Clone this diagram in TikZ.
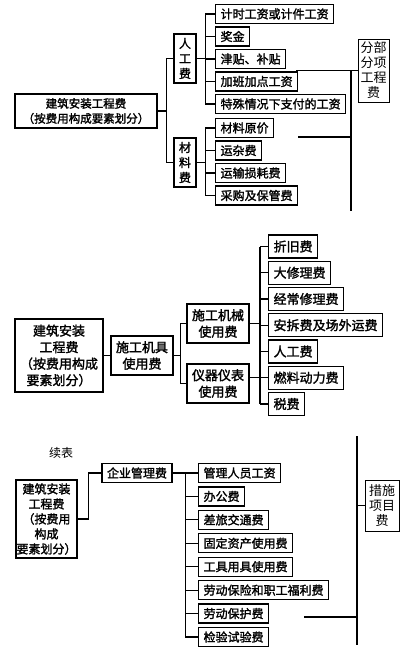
\documentclass[tikz,border=0pt]{standalone}
\usepackage{fontspec}
\newfontfamily\cjk{Noto Sans CJK SC}
\newfontfamily\cjkb[FakeBold=1.8]{Noto Sans CJK SC}
\usetikzlibrary{positioning}

\tikzset{
  box/.style={draw, line width=1.2pt, inner xsep=5pt, inner ysep=0pt, minimum height=19pt,
    font=\cjkb\fontsize{12}{14}\selectfont},
  leaf/.style={box, anchor=west},
  boxb/.style={box, minimum height=23pt, font=\cjkb\fontsize{13}{16.5}\selectfont},
  side/.style={draw, line width=1pt, align=center, inner sep=1pt, font=\cjk\fontsize{13}{15}\selectfont},
  link/.style={line width=1.2pt},
}

\begin{document}
\begin{tikzpicture}[x=1pt,y=-1pt]
\useasboundingbox (0,0) rectangle (402,651);
% Part 1: labour and materials
\node[box, align=center, minimum width=142pt, minimum height=34pt, font=\cjkb\fontsize{11.5}{15}\selectfont] (jzaz) at (86,111) {建筑安装工程费\\（按费用构成要素划分）};
\node[box, align=center, inner xsep=1pt, minimum width=22pt, minimum height=49pt, font=\cjkb\fontsize{12}{15}\selectfont] (rgf) at (185,58.5) {人\\工\\费};
\node[box, align=center, inner xsep=1pt, minimum width=22pt, minimum height=49pt, font=\cjkb\fontsize{12}{15}\selectfont] (clf) at (185,162.5) {材\\料\\费};
\draw[link] (jzaz.east) -- ++(9,0) |- (rgf.west);
\draw[link] (jzaz.east) -- ++(9,0) |- (clf.west);
\foreach \t [count=\i] in {计时工资或计件工资,奖金,津贴、补贴,加班加点工资,特殊情况下支付的工资} {
  \node[leaf] (rg\i) at (215,{14+22.5*(\i-1)}) {\t};
  \draw[link] (rgf.east) -- ++(9,0) |- (rg\i.west);
}
\foreach \t [count=\i] in {材料原价,运杂费,运输损耗费,采购及保管费} {
  \node[leaf] (cl\i) at (215,{128+22.5*(\i-1)}) {\t};
  \draw[link] (clf.east) -- ++(9,0) |- (cl\i.west);
}
% side label 1
\node[side, minimum width=31pt, minimum height=63pt] (fbfx) at (373.5,70.5) {分部\\分项\\工程\\费};
\coordinate (fb1) at (296,70.5);
\coordinate (fb2) at (351,211);
\coordinate (fb3) at (298,137);
\draw[link] (fb1) -- (fbfx.west);
\draw[link] (fbfx.west -| fb2) -- (fb2);
\draw[link] (fb3) -- (fb3 -| fb2);

% Part 2: machinery
\node[boxb, align=center, inner xsep=1pt, minimum width=88pt, minimum height=73pt] (jzaz2) at (59,355.5) {建筑安装\\工程费\\（按费用构成\\要素划分）};
\node[boxb, align=center, inner xsep=1pt, minimum width=62pt, minimum height=39pt] (jjf) at (142,355.5) {施工机具\\使用费};
\node[boxb, align=center, inner xsep=1pt, minimum width=62pt, minimum height=39pt] (jxf) at (218,323.5) {施工机械\\使用费};
\node[boxb, align=center, inner xsep=1pt, minimum width=62pt, minimum height=39pt] (yqf) at (218,383.5) {仪器仪表\\使用费};
\draw[link] (jzaz2.east) -- (jjf.west);
\draw[link] (jjf.east) -- ++(7,0) |- (jxf.west);
\draw[link] (jjf.east) -- ++(7,0) |- (yqf.west);
\foreach \t [count=\i] in {折旧费,大修理费,经常修理费,安拆费及场外运费,人工费,燃料动力费,税费} {
  \node[boxb, anchor=west] (jx\i) at (268,{246.5+26.25*(\i-1)}) {\t};
}
\coordinate (v2) at (260,0);
\draw[link] (v2 |- jx1.west) -- (v2 |- jx7.west);
\foreach \i in {1,...,7} {
  \draw[link] (v2 |- jx\i.west) -- (jx\i.west);
}
\draw[link] (jxf.east) -- (v2 |- jxf.east);
\draw[link] (yqf.east |- jx6.west) -- (v2 |- jx6.west);

% Part 3: management
\node[font=\cjk\fontsize{12}{14}\selectfont] (xb) at (61,453) {续表};
\node[box, align=center, inner xsep=0pt, minimum width=61pt, minimum height=78pt, font=\cjkb\fontsize{12}{15}\selectfont] (jzaz3) at (46.5,519) {建筑安装\\工程费\\（按费用\\构成\\要素划分）};
\node[box] (qyf) at (137,473) {企业管理费};
\draw[link] (jzaz3.east) -- ++(11,0) |- (qyf.west);
\foreach \t [count=\i] in {管理人员工资,办公费,差旅交通费,固定资产使用费,工具用具使用费,劳动保险和职工福利费,劳动保护费,检验试验费} {
  \node[leaf] (qy\i) at (198,{473+23.43*(\i-1)}) {\t};
  \draw[link] (qyf.east) -- ++(13,0) |- (qy\i.west);
}
% side label 2
\node[side, minimum width=34pt, minimum height=51pt] (csxm) at (382,505.5) {措施\\项目\\费};
\coordinate (cs1) at (357,436);
\coordinate (cs2) at (357,645);
\coordinate (cs3) at (304,617);
\draw[link] (cs1) -- (cs2);
\draw[link] (csxm.west -| cs1) -- (csxm.west);
\draw[link] (cs3) -- (cs3 -| cs1);
\end{tikzpicture}
\end{document}
